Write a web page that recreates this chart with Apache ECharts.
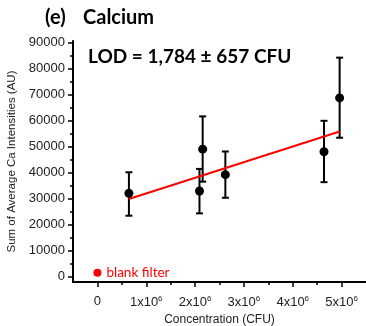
<!DOCTYPE html>
<html>
<head>
<meta charset="utf-8">
<script src="https://cdn.jsdelivr.net/npm/echarts@6/dist/echarts.min.js"></script>
<style>
html,body{margin:0;padding:0;background:#fff;}
#c{width:366px;height:326px;}
</style>
</head>
<body>
<div id="c"></div>
<script>
// Data
var concentration = [645000, 2090000, 2155000, 2620000, 4640000, 4960000];
var intensity     = [31900, 32800, 48900, 39100, 47900, 68600];
var errLow        = [23300, 24200, 36400, 30200, 36200, 53300];
var errHigh       = [40000, 41300, 61500, 48000, 59800, 84100];
var fitLine       = [[645000, 29700], [4960000, 55700]];
var blankFilter   = [[0, 1400]];
var xTicks = [0, 1000000, 2000000, 3000000, 4000000, 5000000];
var xMinorTicks = [500000, 1500000, 2500000, 3500000, 4500000];
var yTicks = [0, 10000, 20000, 30000, 40000, 50000, 60000, 70000, 80000, 90000];
var yMinorTicks = [5000, 15000, 25000, 35000, 45000, 55000, 65000, 75000, 85000];
var panelLabel = '(e)';
var titleText = 'Calcium';
var lodText = 'LOD = 1,784 \u00b1 657 CFU';
var blankLabel = 'blank filter';
var xName = 'Concentration (CFU)';
var yName = 'Sum of Average Ca Intensities (AU)';

var points = concentration.map(function (x, i) { return [x, intensity[i]]; });
var bars = concentration.map(function (x, i) { return [x, errLow[i], errHigh[i]]; });

var XMIN = -500000, XMAX = 5500000, YMIN = -2200, YMAX = 90500;
var sans = 'Liberation Sans';
var calibri = 'Lato';

var chart = echarts.init(document.getElementById('c'), null, {renderer: 'canvas'});
chart.setOption({
  animation: false,
  backgroundColor: '#fff',
  title: [
    {text: panelLabel, left: 45, top: 8, padding: 0, textStyle: {fontFamily: calibri, fontWeight: 'bold', fontSize: 20, color: '#000'}},
    {text: titleText, left: 83, top: 8, padding: 0, textStyle: {fontFamily: calibri, fontWeight: 'bold', fontSize: 20, color: '#000'}},
    {text: lodText, left: 88, top: 47, padding: 0, textStyle: {fontFamily: calibri, fontWeight: 'bold', fontSize: 19, color: '#000'}}
  ],
  grid: {left: 73, right: 0, top: 41, bottom: 44, outerBoundsMode: 'none', containLabel: false},
  xAxis: [{
    type: 'value', min: XMIN, max: XMAX,
    splitLine: {show: false},
    axisLine: {show: true, onZero: false, lineStyle: {color: '#000', width: 2}},
    axisTick: {show: true, customValues: xTicks, length: 5, lineStyle: {color: '#000', width: 1.5}},
    axisLabel: {
      customValues: xTicks, margin: 13, color: '#222', fontFamily: sans, fontSize: 13,
      formatter: function (v) { return v === 0 ? '0' : (v / 1000000) + 'x10{sup|6}'; },
      rich: {sup: {fontSize: 8, fontFamily: sans, color: '#222', verticalAlign: 'top', padding: [0, 0, 7, 0]}}
    },
    name: xName, nameLocation: 'middle', nameGap: 32,
    nameTextStyle: {fontFamily: sans, fontSize: 12, color: '#222'}
  }, {
    type: 'value', min: XMIN, max: XMAX, position: 'bottom', gridIndex: 0,
    splitLine: {show: false},
    axisLine: {show: false, onZero: false},
    axisTick: {show: true, customValues: xMinorTicks, length: 3, lineStyle: {color: '#000', width: 1.5}},
    axisLabel: {show: false}
  }],
  yAxis: [{
    type: 'value', min: YMIN, max: YMAX,
    splitLine: {show: false},
    axisLine: {show: true, onZero: false, lineStyle: {color: '#000', width: 2}},
    axisTick: {show: true, customValues: yTicks, length: 5, lineStyle: {color: '#000', width: 1.5}},
    axisLabel: {customValues: yTicks, margin: 8, color: '#222', fontFamily: sans, fontSize: 13,
      formatter: function (v) { return String(v); }},
    name: yName, nameLocation: 'middle', nameGap: 45,
    nameTextStyle: {fontFamily: sans, fontSize: 11.5, color: '#222'}
  }, {
    type: 'value', min: YMIN, max: YMAX, position: 'left',
    splitLine: {show: false},
    axisLine: {show: false, onZero: false},
    axisTick: {show: true, customValues: yMinorTicks, length: 3, lineStyle: {color: '#000', width: 1.5}},
    axisLabel: {show: false}
  }],
  series: [{
    type: 'custom',
    xAxisIndex: 0, yAxisIndex: 0,
    z: 1,
    data: bars,
    renderItem: function (params, api) {
      var top = api.coord([api.value(0), api.value(2)]);
      var bot = api.coord([api.value(0), api.value(1)]);
      var cap = 3.5;
      var st = {stroke: '#000', lineWidth: 2};
      return {type: 'group', children: [
        {type: 'line', shape: {x1: top[0], y1: top[1], x2: bot[0], y2: bot[1]}, style: st},
        {type: 'line', shape: {x1: top[0] - cap, y1: top[1], x2: top[0] + cap, y2: top[1]}, style: st},
        {type: 'line', shape: {x1: bot[0] - cap, y1: bot[1], x2: bot[0] + cap, y2: bot[1]}, style: st}
      ]};
    }
  }, {
    type: 'line', z: 2,
    data: fitLine, symbol: 'none',
    lineStyle: {color: '#ff0000', width: 2}
  }, {
    type: 'scatter', z: 3,
    data: points, symbol: 'circle', symbolSize: 9,
    itemStyle: {color: '#000', opacity: 1}
  }, {
    type: 'scatter', z: 3,
    data: blankFilter, symbol: 'circle', symbolSize: 8,
    itemStyle: {color: '#ff0000', opacity: 1},
    label: {show: true, position: 'right', distance: 5, formatter: blankLabel,
      color: '#ff0000', fontFamily: calibri, fontSize: 13.5}
  }]
});
</script>
</body>
</html>
